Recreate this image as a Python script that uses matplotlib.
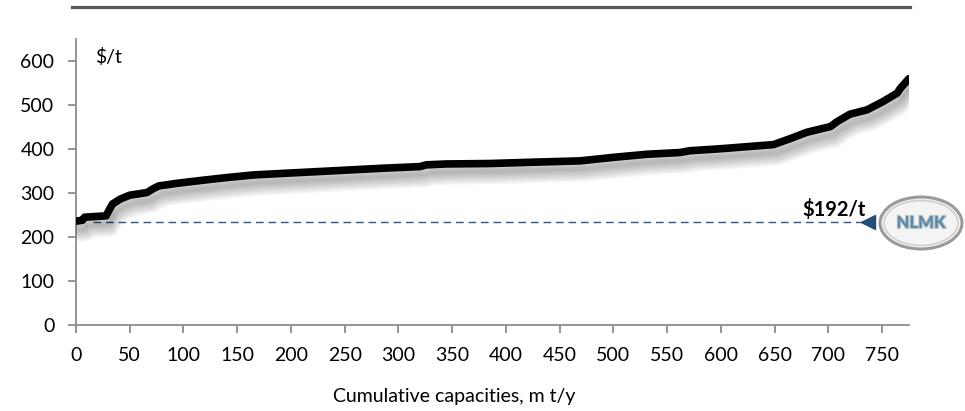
import matplotlib
matplotlib.use("Agg")
import matplotlib.pyplot as plt
import matplotlib.patheffects as pe
from matplotlib.patches import Ellipse

# Cost curve: cumulative capacity (m t/y) vs cash cost ($/t)
capacity = [0, 6, 8, 28, 31, 34, 41, 50, 66, 72, 77, 94, 118, 140, 165, 196,
            236, 283, 320, 326, 345, 385, 425, 469, 500, 531, 562, 571, 590,
            602, 649, 665, 680, 702, 708, 720, 736, 751, 764, 767, 775]
cost = [236, 238, 245, 248, 262, 275, 286, 295, 301, 310, 316, 322, 329, 335,
        341, 345, 350, 356, 360, 364, 366, 367, 370, 373, 381, 388, 392, 396,
        399, 401, 410, 424, 438, 451, 462, 479, 489, 508, 527, 538, 560]

nlmk_start = 16
nlmk_end = 737
nlmk_level = 233
nlmk_label = "$192/t"

x_ticks = list(range(0, 751, 50))
y_ticks = list(range(0, 601, 100))

plt.rcParams["font.family"] = ["Lato", "DejaVu Sans"]

fig = plt.figure(figsize=(9.65, 4.11), dpi=100)
ax = fig.add_axes([76 / 965, 86 / 411, 833 / 965, 286 / 411])

axis_grey = "#8c8c8c"

# Soft drop shadow under the curve built from many faint offset strokes
shadow = []
steps = 12
for i in range(steps, 0, -1):
    f = i / steps
    shadow.append(pe.SimpleLineShadow(offset=(0.5 + 3.5 * f, -1.0 - 9.5 * f),
                                      shadow_color="#000000", alpha=0.03,
                                      linewidth=6 + 3 * f))
shadow.append(pe.Normal())
ax.plot(capacity, cost, color="black", lw=5.5, solid_capstyle="round",
        solid_joinstyle="round", path_effects=shadow, zorder=3)

# NLMK reference line with marker
ax.plot([nlmk_start, nlmk_end], [nlmk_level, nlmk_level], color="#3b5573",
        lw=1.0, dashes=(5.5, 3.5), zorder=2)
ax.plot([nlmk_end], [nlmk_level], marker="<", color="#1f4e79", markersize=10,
        clip_on=False, zorder=4)
ax.text(nlmk_end - 2, nlmk_level + 6, nlmk_label, ha="right", va="bottom",
        fontsize=14.5, fontweight="bold", color="black")

ax.text(18, 610, "$/t", ha="left", va="center", fontsize=14, color="black")

ax.set_xlim(0, 775)
ax.set_ylim(0, 650)
ax.set_xticks(x_ticks)
ax.set_yticks(y_ticks)

for side in ("top", "right"):
    ax.spines[side].set_visible(False)
for side in ("left", "bottom"):
    ax.spines[side].set_color(axis_grey)
    ax.spines[side].set_linewidth(1.3)
ax.tick_params(axis="both", colors=axis_grey, length=5.5, width=1.3,
               labelcolor="black", labelsize=14, pad=10)

fig.text(454 / 965, 1 - 396 / 411, "Cumulative capacities, m t/y",
         ha="center", va="center", fontsize=14, color="black")

# Rule across the top of the slide area
fig.add_artist(plt.Line2D([72 / 965, 910 / 965], [1 - 7 / 411, 1 - 7 / 411],
                          color="#5a5a5a", lw=2.3))

# NLMK badge
cx, cy = 921 / 965, 1 - 223 / 411
badge = Ellipse((cx, cy), 82 / 965, 52 / 411, transform=fig.transFigure,
                facecolor="#f4f4f4", edgecolor="#9a9a9a", lw=2.2)
fig.add_artist(badge)
inner = Ellipse((cx, cy), 74 / 965, 45 / 411, transform=fig.transFigure,
                facecolor="none", edgecolor="#cfcfcf", lw=1.2)
fig.add_artist(inner)
fig.text(cx, cy, "NLMK", ha="center", va="center", fontsize=12,
         fontweight="black", color="#5f8aa6",
         path_effects=[pe.withStroke(linewidth=1.5, foreground="#b8c4cc")])

fig.savefig("out.png", dpi=100)
